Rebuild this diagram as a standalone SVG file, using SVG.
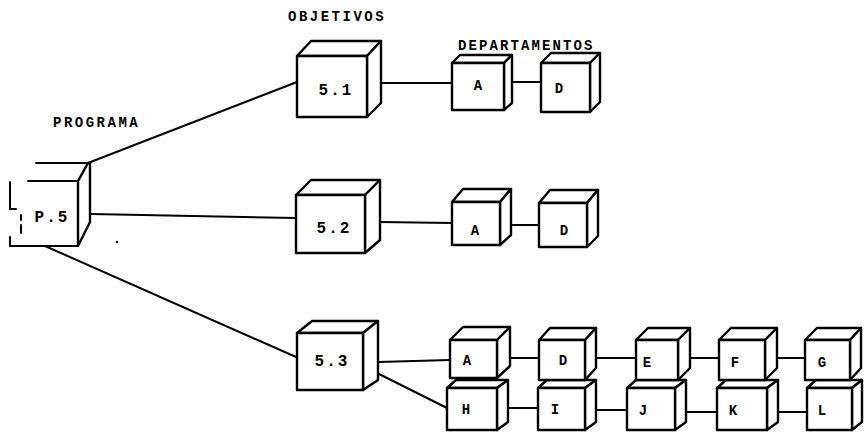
<svg xmlns="http://www.w3.org/2000/svg" width="864" height="433" viewBox="0 0 864 433">
<style>
.c{fill:#fff;stroke:#000;stroke-width:2.4;stroke-linejoin:round}
.ln{stroke:#000;stroke-width:2;fill:none;stroke-linecap:round}
.t{font-family:"Liberation Mono",monospace;font-weight:bold;fill:#000;text-anchor:middle}
.big{font-size:16px;letter-spacing:2px}
.sm{font-size:14px}
.hd{font-family:"Liberation Mono",monospace;font-weight:bold;fill:#000;font-size:14px;letter-spacing:2.5px}
</style>
<rect width="864" height="433" fill="#fff"/>
<g id="labels">
<text class="hd" x="288" y="21">OBJETIVOS</text>
<text class="hd" x="53" y="127">PROGRAMA</text>
</g>
<g id="connectors">
<path class="ln" d="M88,163 L297,82"/>
<path class="ln" d="M91,214 L296,218"/>
<path class="ln" d="M45,246 L296,357"/>
<path class="ln" d="M380,83 L452,83"/>
<path class="ln" d="M504,82 L541,82"/>
<path class="ln" d="M380,222 L452,223"/>
<path class="ln" d="M500,225 L539,225"/>
<path class="ln" d="M378,362 L450,360"/>
<path class="ln" d="M497,358 L539,358"/>
<path class="ln" d="M585,358 L636,358"/>
<path class="ln" d="M678,358 L719,358"/>
<path class="ln" d="M765,358 L805,358"/>
<path class="ln" d="M375,372 L447,408"/>
<path class="ln" d="M497,408 L538,408"/>
<path class="ln" d="M585,410 L627,410"/>
<path class="ln" d="M675,412 L717,412"/>
<path class="ln" d="M767,412 L807,412"/>
</g>
<g id="nodeP5">
<path class="c" d="M78,181 L88,163 L90,163 L90,222 L78,246 Z"/>
<path class="ln" d="M36,163 L88,163 M28,181 L78,181 M78,181 L78,246 M10,246 L78,246 M10,237 L10,246 M10,182 L10,209 L16,209"/>
<path class="ln" d="M21,215 L21,220 M21,225 L21,233" stroke-width="1.5"/>
<circle cx="117" cy="242" r="1.3" fill="#000"/>
<text class="t big" x="52" y="222">P.5</text>
</g>
<g id="node51">
<path class="c" d="M297,56 L311,41 L381,41 L367,56 Z"/>
<path class="c" d="M367,56 L381,41 L381,103 L367,117 Z"/>
<rect class="c" x="297" y="56" width="70" height="61"/>
<text class="t big" x="336" y="95">5.1</text>
</g>
<g id="node52">
<path class="c" d="M296,195 L311,180 L380,180 L365,195 Z"/>
<path class="c" d="M365,195 L380,180 L380,240 L365,253 Z"/>
<rect class="c" x="296" y="195" width="69" height="58"/>
<text class="t big" x="334" y="233">5.2</text>
</g>
<g id="node53">
<path class="c" d="M297,333 L312,321 L378,321 L363,333 Z"/>
<path class="c" d="M363,333 L378,321 L378,380 L363,390 Z"/>
<rect class="c" x="297" y="333" width="66" height="57"/>
<text class="t big" x="332" y="366">5.3</text>
</g>
<text class="hd" x="458" y="50" style="letter-spacing:2.1px">DEPARTAMENTOS</text>
<g id="node51A">
<path class="c" d="M452,63 L460,55 L512,55 L504,63 Z"/>
<path class="c" d="M504,63 L512,55 L512,103 L504,110 Z"/>
<rect class="c" x="452" y="63" width="52" height="47"/>
<text class="t sm" x="478" y="90">A</text>
</g>
<g id="node51D">
<path class="c" d="M541,63 L551,53 L600,53 L590,63 Z"/>
<path class="c" d="M590,63 L600,53 L600,102 L590,112 Z"/>
<rect class="c" x="541" y="63" width="49" height="49"/>
<text class="t sm" x="559" y="93">D</text>
</g>
<g id="node52A">
<path class="c" d="M452,202 L463,189 L511,189 L500,202 Z"/>
<path class="c" d="M500,202 L511,189 L511,235 L500,245 Z"/>
<rect class="c" x="452" y="202" width="48" height="43"/>
<text class="t sm" x="475" y="235">A</text>
</g>
<g id="node52D">
<path class="c" d="M539,203 L550,190 L598,190 L587,203 Z"/>
<path class="c" d="M587,203 L598,190 L598,236 L587,247 Z"/>
<rect class="c" x="539" y="203" width="48" height="44"/>
<text class="t sm" x="564" y="235">D</text>
</g>
<g id="nodeH">
<path class="c" d="M447,388 L456,380 L508,380 L497,388 Z"/>
<path class="c" d="M497,388 L508,380 L508,422 L497,430 Z"/>
<rect class="c" x="447" y="388" width="50" height="42"/>
<text class="t sm" x="466" y="414">H</text>
</g>
<g id="nodeI">
<path class="c" d="M538,388 L547,380 L596,380 L585,388 Z"/>
<path class="c" d="M585,388 L596,380 L596,422 L585,430 Z"/>
<rect class="c" x="538" y="388" width="47" height="42"/>
<text class="t sm" x="555" y="414">I</text>
</g>
<g id="nodeJ">
<path class="c" d="M627,388 L636,380 L686,380 L675,388 Z"/>
<path class="c" d="M675,388 L686,380 L686,422 L675,430 Z"/>
<rect class="c" x="627" y="388" width="48" height="42"/>
<text class="t sm" x="643" y="415">J</text>
</g>
<g id="nodeK">
<path class="c" d="M717,388 L726,380 L778,380 L767,388 Z"/>
<path class="c" d="M767,388 L778,380 L778,422 L767,430 Z"/>
<rect class="c" x="717" y="388" width="50" height="42"/>
<text class="t sm" x="733" y="415">K</text>
</g>
<g id="nodeL">
<path class="c" d="M807,388 L816,380 L862,380 L852,388 Z"/>
<path class="c" d="M852,388 L862,380 L862,422 L852,430 Z"/>
<rect class="c" x="807" y="388" width="45" height="42"/>
<text class="t sm" x="822" y="415">L</text>
</g>
<g id="nodeA">
<path class="c" d="M450,340 L463,327 L510,327 L497,340 Z"/>
<path class="c" d="M497,340 L510,327 L510,366 L497,378 Z"/>
<rect class="c" x="450" y="340" width="47" height="38"/>
<text class="t sm" x="467" y="365">A</text>
</g>
<g id="nodeD">
<path class="c" d="M539,340 L550,328 L596,328 L585,340 Z"/>
<path class="c" d="M585,340 L596,328 L596,368 L585,380 Z"/>
<rect class="c" x="539" y="340" width="46" height="40"/>
<text class="t sm" x="563" y="365">D</text>
</g>
<g id="nodeE">
<path class="c" d="M636,340 L648,328 L690,328 L678,340 Z"/>
<path class="c" d="M678,340 L690,328 L690,368 L678,380 Z"/>
<rect class="c" x="636" y="340" width="42" height="40"/>
<text class="t sm" x="647" y="367">E</text>
</g>
<g id="nodeF">
<path class="c" d="M719,340 L731,328 L777,328 L765,340 Z"/>
<path class="c" d="M765,340 L777,328 L777,368 L765,380 Z"/>
<rect class="c" x="719" y="340" width="46" height="40"/>
<text class="t sm" x="735" y="367">F</text>
</g>
<g id="nodeG">
<path class="c" d="M805,340 L817,328 L861,328 L850,340 Z"/>
<path class="c" d="M850,340 L861,328 L861,368 L850,380 Z"/>
<rect class="c" x="805" y="340" width="45" height="40"/>
<text class="t sm" x="822" y="367">G</text>
</g>
</svg>
